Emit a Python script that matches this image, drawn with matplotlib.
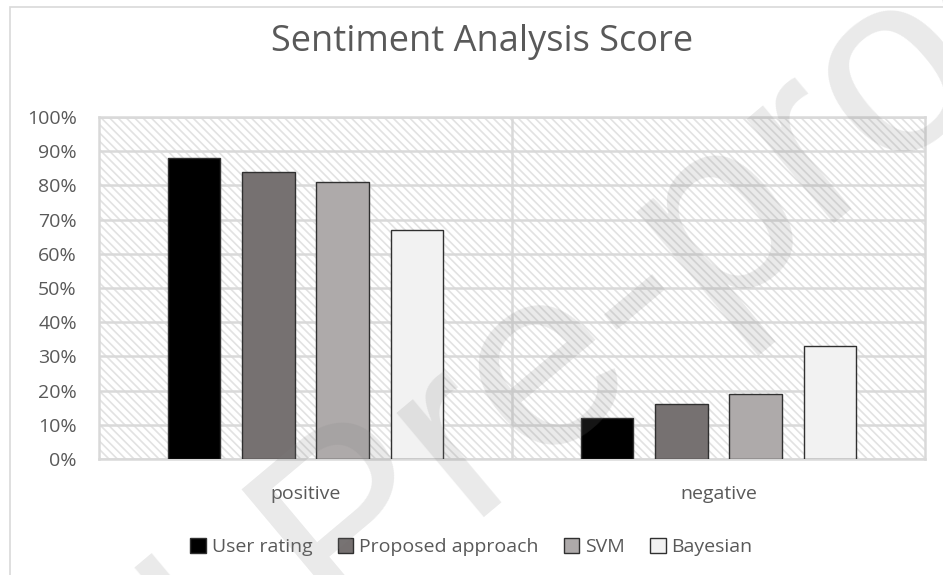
import numpy as np
import matplotlib
matplotlib.use("Agg")
import matplotlib.pyplot as plt
from matplotlib.patches import Rectangle

# data
categories = ["positive", "negative"]
series_names = ["User rating", "Proposed approach", "SVM", "Bayesian"]
user_rating = [88, 12]
proposed = [84, 16]
svm = [81, 19]
bayesian = [67, 33]
series_values = [user_rating, proposed, svm, bayesian]
y_ticks = list(range(0, 101, 10))

colors = ["#000000", "#767171", "#aeaaaa", "#f2f2f2"]
text_gray = "#595959"
grid_gray = "#d9d9d9"

plt.rcParams["font.family"] = ["Open Sans", "DejaVu Sans"]
plt.rcParams["hatch.linewidth"] = 1.2

fig = plt.figure(figsize=(9.43, 5.75), dpi=100)
ax = fig.add_axes([99 / 943, 1 - 459 / 575, (925 - 99) / 943, (459 - 117) / 575])

# outer chart border
fig.patches.append(Rectangle((10 / 943, -0.1), 1.1, 1 - 7 / 575 + 0.1,
                             transform=fig.transFigure, fill=False,
                             edgecolor=grid_gray, lw=1.2, zorder=0))

# hatched plot area background
ax.patch.set_visible(False)
ax.add_patch(Rectangle((0, 0), 1, 1, transform=ax.transAxes, facecolor="white",
                       edgecolor="#e2e2e2", hatch="\\\\\\\\", lw=0, zorder=0))

x = np.arange(len(categories))
width = 0.128
step = 0.18
for i, (name, vals) in enumerate(zip(series_names, series_values)):
    offset = (i - 1.5) * step
    ax.bar(x + offset, vals, width, color=colors[i], edgecolor="#303030",
           linewidth=1, label=name, zorder=3)

ax.set_xlim(-0.5, 1.5)
ax.set_ylim(0, 100)
ax.set_yticks(y_ticks)
ax.set_yticklabels([f"{t}%" for t in y_ticks])
ax.set_xticks(x)
ax.set_xticklabels(categories)
ax.tick_params(axis="both", length=0, labelsize=14, colors=text_gray)
ax.tick_params(axis="y", pad=16)
ax.tick_params(axis="x", pad=19)

ax.grid(axis="y", color=grid_gray, lw=1.8, zorder=1)
ax.axvline(0.5, color=grid_gray, lw=1.8, zorder=1)
for s in ax.spines.values():
    s.set_color(grid_gray)
    s.set_linewidth(1.8)

fig.text(482 / 943, 1 - 42 / 575, "Sentiment Analysis Score", ha="center", va="center",
         fontsize=26, color=text_gray)

fig.legend(loc="center", bbox_to_anchor=(0.5, 1 - 547 / 575), ncol=4,
           frameon=False, fontsize=14, labelcolor=text_gray,
           handlelength=0.8, handleheight=0.8, handletextpad=0.3,
           columnspacing=1.3)

# watermark
fig.text(1160 / 943, 1 + 50 / 575, "Journal Pre-proof", rotation=40,
         rotation_mode="anchor", ha="right", va="baseline", fontsize=185,
         family="Liberation Sans", color="#808080", alpha=0.17, zorder=10)

fig.savefig("out.png", dpi=100)
